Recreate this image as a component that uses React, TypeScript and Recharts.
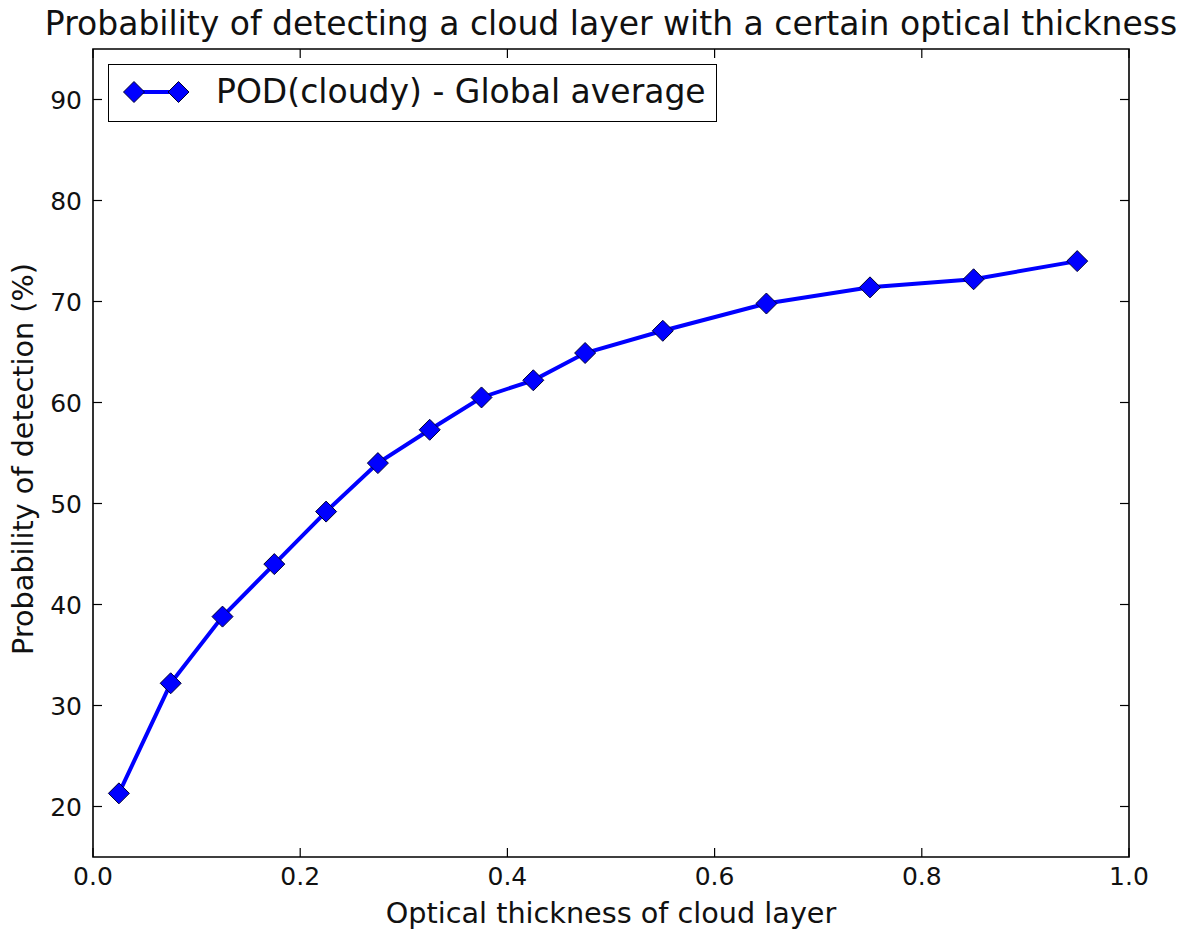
import React from 'react'
import { LineChart, Line, XAxis, YAxis, ReferenceArea } from 'recharts'

const thickness = [0.025, 0.075, 0.125, 0.175, 0.225, 0.275, 0.325, 0.375, 0.425, 0.475, 0.55, 0.65, 0.75, 0.85, 0.95]
const podCloudy = [21.3, 32.2, 38.8, 44.0, 49.2, 54.0, 57.3, 60.5, 62.2, 64.9, 67.1, 69.8, 71.4, 72.2, 74.0]
const xTicks = [0, 0.2, 0.4, 0.6, 0.8, 1.0]
const yTicks = [20, 30, 40, 50, 60, 70, 80, 90]

const data = thickness.map((x, i) => ({ x, pod: podCloudy[i] }))

const W = 1192
const H = 931
const LEFT = 93
const TOP = 49
const RIGHT = 1129
const BOTTOM = 857
const TICK = 9
const FONT = '"DejaVu Sans", sans-serif'
const BLUE = '#0000ff'
const INK = '#111'

function Diamond({ cx, cy, r = 10.5 }: { cx?: number; cy?: number; r?: number }) {
  if (cx == null || cy == null) return null
  return (
    <path
      d={`M${cx},${cy - r} L${cx + r},${cy} L${cx},${cy + r} L${cx - r},${cy} Z`}
      fill={BLUE}
      stroke="#000033"
      strokeWidth={1}
    />
  )
}

function XTick(props: any) {
  const { x, payload } = props
  return (
    <g>
      <line x1={x} x2={x} y1={BOTTOM} y2={BOTTOM - TICK} stroke="#000" strokeWidth={1.2} />
      <line x1={x} x2={x} y1={TOP} y2={TOP + TICK} stroke="#000" strokeWidth={1.2} />
      <text x={x} y={BOTTOM + 28} textAnchor="middle" fontSize={25} fontFamily={FONT} fill={INK}>
        {Number(payload.value).toFixed(1)}
      </text>
    </g>
  )
}

function YTick(props: any) {
  const { y, payload } = props
  return (
    <g>
      <line x1={LEFT} x2={LEFT + TICK} y1={y} y2={y} stroke="#000" strokeWidth={1.2} />
      <line x1={RIGHT} x2={RIGHT - TICK} y1={y} y2={y} stroke="#000" strokeWidth={1.2} />
      <text x={LEFT - 11} y={y + 9} textAnchor="end" fontSize={25} fontFamily={FONT} fill={INK}>
        {payload.value}
      </text>
    </g>
  )
}

export default function App() {
  return (
    <div style={{ position: 'absolute', left: 0, top: 0, width: W, height: H, background: '#fff' }}>
      <div style={{ position: 'absolute', left: 0, top: 0 }}>
        <LineChart width={W} height={H} data={data} margin={{ top: TOP, right: W - RIGHT, bottom: 0, left: 0 }}>
          <XAxis
            type="number"
            dataKey="x"
            domain={[0, 1]}
            ticks={xTicks}
            height={H - BOTTOM}
            tickSize={0}
            tickMargin={0}
            tickLine={false}
            axisLine={false}
            tick={<XTick />}
          />
          <YAxis
            type="number"
            domain={[15, 95]}
            ticks={yTicks}
            width={LEFT}
            tickSize={0}
            tickMargin={0}
            tickLine={false}
            axisLine={false}
            tick={<YTick />}
          />
          <ReferenceArea x1={0} x2={1} y1={15} y2={95} fill="none" stroke="#000" strokeWidth={1.6} ifOverflow="visible" />
          <Line
            dataKey="pod"
            stroke={BLUE}
            strokeWidth={4}
            dot={(p: any) => <Diamond key={p.index} cx={p.cx} cy={p.cy} />}
            activeDot={false}
            isAnimationActive={false}
          />
        </LineChart>
      </div>

      {/* title and axis labels */}
      <svg width={W} height={H} style={{ position: 'absolute', left: 0, top: 0, pointerEvents: 'none' }}>
        <text x={(LEFT + RIGHT) / 2} y={35} textAnchor="middle" fontSize={33} fontFamily={FONT} fill={INK}>
          Probability of detecting a cloud layer with a certain optical thickness
        </text>
        <text x={(LEFT + RIGHT) / 2} y={923} textAnchor="middle" fontSize={28.7} fontFamily={FONT} fill={INK}>
          Optical thickness of cloud layer
        </text>
        <text
          transform={`translate(33, 459) rotate(-90)`}
          textAnchor="middle"
          fontSize={28.7}
          fontFamily={FONT}
          fill={INK}
        >
          Probability of detection (%)
        </text>
      </svg>

      {/* legend */}
      <div
        style={{
          position: 'absolute',
          left: 108,
          top: 64,
          width: 609,
          height: 58,
          border: '1.6px solid #000',
          background: '#fff',
          boxSizing: 'border-box',
        }}
      >
        <svg width={606} height={55} style={{ position: 'absolute', left: 0, top: 0 }}>
          <line x1={25} x2={69.5} y1={27} y2={27} stroke={BLUE} strokeWidth={4} />
          <Diamond cx={25} cy={27} />
          <Diamond cx={69.5} cy={27} />
          <text x={107} y={38} fontSize={33} fontFamily={FONT} fill={INK}>
            POD(cloudy) - Global average
          </text>
        </svg>
      </div>
    </div>
  )
}
